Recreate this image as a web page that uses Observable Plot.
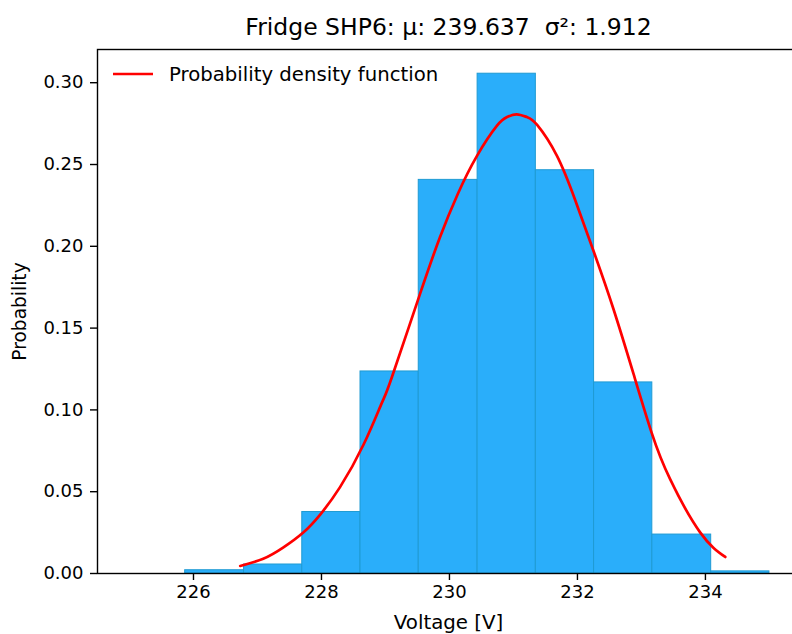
<!DOCTYPE html>
<html>
<head>
<meta charset="utf-8">
<script src="https://cdn.jsdelivr.net/npm/d3@7"></script>
<script src="https://cdn.jsdelivr.net/npm/@observablehq/plot@0.6"></script>
<style>
  html, body { margin: 0; padding: 0; background: #fff; overflow: hidden; }
  #chart svg { font-family: "DejaVu Sans", sans-serif; display: block; }
</style>
</head>
<body>
<div id="chart"></div>
<script>
// Histogram bin edges (V) and normalised heights (probability density)
const binEdges = [225.87, 226.79, 227.70, 228.61, 229.52, 230.44, 231.35, 232.26, 233.17, 234.09, 235.00];
const binDensity = [0.0020, 0.0055, 0.0376, 0.1235, 0.2406, 0.3055, 0.2465, 0.1168, 0.0238, 0.0013];

// Fitted probability density function, sampled along the voltage axis
const pdfVoltage = [226.73, 227.09, 227.40, 227.72, 227.98, 228.29, 228.66, 228.94, 229.10, 229.54, 229.85,
                    230.13, 230.43, 230.74, 230.90, 231.05, 231.21, 231.37, 231.68, 231.96, 232.25, 232.56,
                    232.88, 233.16, 233.45, 233.92, 234.31];
const pdfDensity = [0.0046, 0.0090, 0.0158, 0.0252, 0.0360, 0.0528, 0.0790, 0.1040, 0.1200, 0.1709, 0.2054,
                    0.2320, 0.2553, 0.2736, 0.2790, 0.2807, 0.2790, 0.2742, 0.2553, 0.2288, 0.1973, 0.1620,
                    0.1215, 0.0860, 0.0575, 0.0250, 0.0101];

const xTicks = [226, 228, 230, 232, 234];
const yTicks = [0, 0.05, 0.10, 0.15, 0.20, 0.25, 0.30];

const titleText = "Fridge SHP6: μ: 239.637  σ²: 1.912";
const xLabel = "Voltage [V]";
const yLabel = "Probability";
const legendLabel = "Probability density function";

const bins = binDensity.map((d, i) => ({x1: binEdges[i], x2: binEdges[i + 1], y: d}));
const pdf = pdfVoltage.map((v, i) => ({x: v, y: pdfDensity[i]}));

const plot = Plot.plot({
  width: 792,
  height: 634,
  marginLeft: 97,
  marginRight: -7,
  marginTop: 49,
  marginBottom: 61,
  style: {fontFamily: "DejaVu Sans, sans-serif", fontSize: "18px", color: "#000", background: "#fff"},
  x: {domain: [224.5, 235.47]},
  y: {domain: [0, 0.3203]},
  marks: [
    Plot.rectY(bins, {x1: "x1", x2: "x2", y: "y", fill: "#2aaefa", stroke: "#1f9bd3", strokeWidth: 1}),
    Plot.line(pdf, {x: "x", y: "y", stroke: "#ff0000", strokeWidth: 2.7, curve: "natural"}),
    Plot.frame({stroke: "#000", strokeWidth: 1.4}),
    Plot.axisX({ticks: xTicks, tickSize: 7, tickPadding: 5, tickFormat: d => String(d), fontSize: 18, label: null, strokeWidth: 1.4}),
    Plot.axisY({ticks: yTicks, tickSize: 7, tickPadding: 7, tickFormat: d3.format(".2f"), fontSize: 18, label: null, strokeWidth: 1.4}),
    Plot.text([titleText], {frameAnchor: "top", lineAnchor: "middle", textAnchor: "middle", dy: -22, fontSize: 23.5, fill: "#000"}),
    Plot.text([xLabel], {frameAnchor: "bottom", lineAnchor: "middle", textAnchor: "middle", dy: 49, fontSize: 19.8, fill: "#000"}),
    Plot.text([yLabel], {frameAnchor: "left", lineAnchor: "middle", textAnchor: "middle", dx: -77, rotate: -90, fontSize: 18.6, fill: "#000"})
  ]
});

// Legend entry in the upper-left corner of the axes
const svg = d3.select(plot);
const lg = svg.append("g").attr("transform", "translate(97,49)");
lg.append("line").attr("x1", 16).attr("x2", 56).attr("y1", 25).attr("y2", 25)
  .attr("stroke", "#ff0000").attr("stroke-width", 2.7);
lg.append("text").attr("x", 72).attr("y", 25).attr("dy", "0.35em")
  .attr("text-anchor", "start").attr("font-size", 19.7).attr("fill", "#000").text(legendLabel);

document.getElementById("chart").append(plot);
</script>
</body>
</html>
